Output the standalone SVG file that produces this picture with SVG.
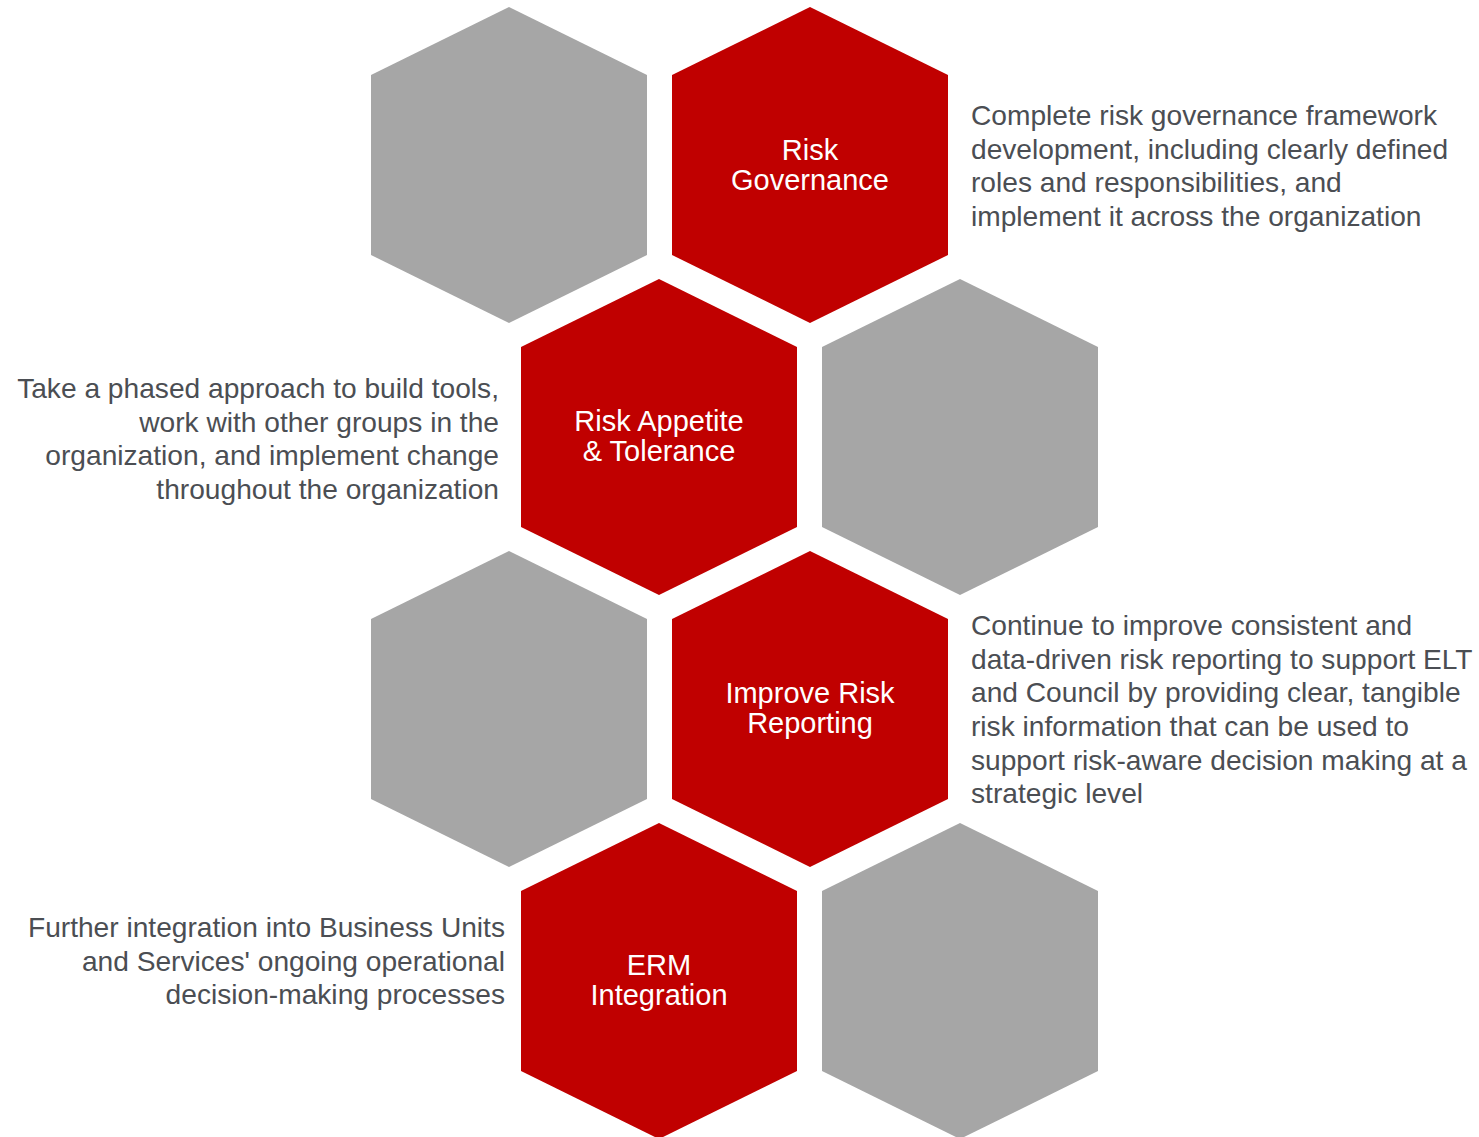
<svg xmlns="http://www.w3.org/2000/svg" width="1479" height="1137" viewBox="0 0 1479 1137">
<style>
.red{fill:#C00000}
.gray{fill:#A6A6A6}
.lbl{font-family:"Liberation Sans",Arial,sans-serif;font-size:29px;fill:#FFFFFF;text-anchor:middle}
.desc{font-family:"Liberation Sans",Arial,sans-serif;font-size:28.15px;fill:#4B4E53}
.r{text-anchor:end}
</style>
<defs>
<polygon id="hex" points="0,0 138,68 138,248 0,316 -138,248 -138,68"/>
</defs>
<rect width="1479" height="1137" fill="#FFFFFF"/>
<g id="hex-gray-1"><use href="#hex" class="gray" x="509" y="7"/></g>
<g id="risk-governance">
<use href="#hex" class="red" x="810" y="7"/>
<text class="lbl" x="810" y="160">Risk</text>
<text class="lbl" x="810" y="190">Governance</text>
</g>
<g id="risk-appetite">
<use href="#hex" class="red" x="659" y="279"/>
<text class="lbl" x="659" y="431">Risk Appetite</text>
<text class="lbl" x="659" y="461">&amp; Tolerance</text>
</g>
<g id="hex-gray-2"><use href="#hex" class="gray" x="960" y="279"/></g>
<g id="hex-gray-3"><use href="#hex" class="gray" x="509" y="551"/></g>
<g id="improve-risk-reporting">
<use href="#hex" class="red" x="810" y="551"/>
<text class="lbl" x="810" y="703">Improve Risk</text>
<text class="lbl" x="810" y="733">Reporting</text>
</g>
<g id="erm-integration">
<use href="#hex" class="red" x="659" y="823"/>
<text class="lbl" x="659" y="975">ERM</text>
<text class="lbl" x="659" y="1005">Integration</text>
</g>
<g id="hex-gray-4"><use href="#hex" class="gray" x="960" y="823"/></g>
<g id="desc-governance" class="desc">
<text x="971" y="125">Complete risk governance framework</text>
<text x="971" y="159">development, including clearly defined</text>
<text x="971" y="192">roles and responsibilities, and</text>
<text x="971" y="226">implement it across the organization</text>
</g>
<g id="desc-appetite" class="desc">
<text class="r" x="499" y="398">Take a phased approach to build tools,</text>
<text class="r" x="499" y="432">work with other groups in the</text>
<text class="r" x="499" y="465">organization, and implement change</text>
<text class="r" x="499" y="499">throughout the organization</text>
</g>
<g id="desc-reporting" class="desc">
<text x="971" y="635">Continue to improve consistent and</text>
<text x="971" y="669">data-driven risk reporting to support ELT</text>
<text x="971" y="702">and Council by providing clear, tangible</text>
<text x="971" y="736">risk information that can be used to</text>
<text x="971" y="770">support risk-aware decision making at a</text>
<text x="971" y="803">strategic level</text>
</g>
<g id="desc-integration" class="desc">
<text class="r" x="505" y="937">Further integration into Business Units</text>
<text class="r" x="505" y="971">and Services' ongoing operational</text>
<text class="r" x="505" y="1004">decision-making processes</text>
</g>
<g id="connectors"/>
</svg>
